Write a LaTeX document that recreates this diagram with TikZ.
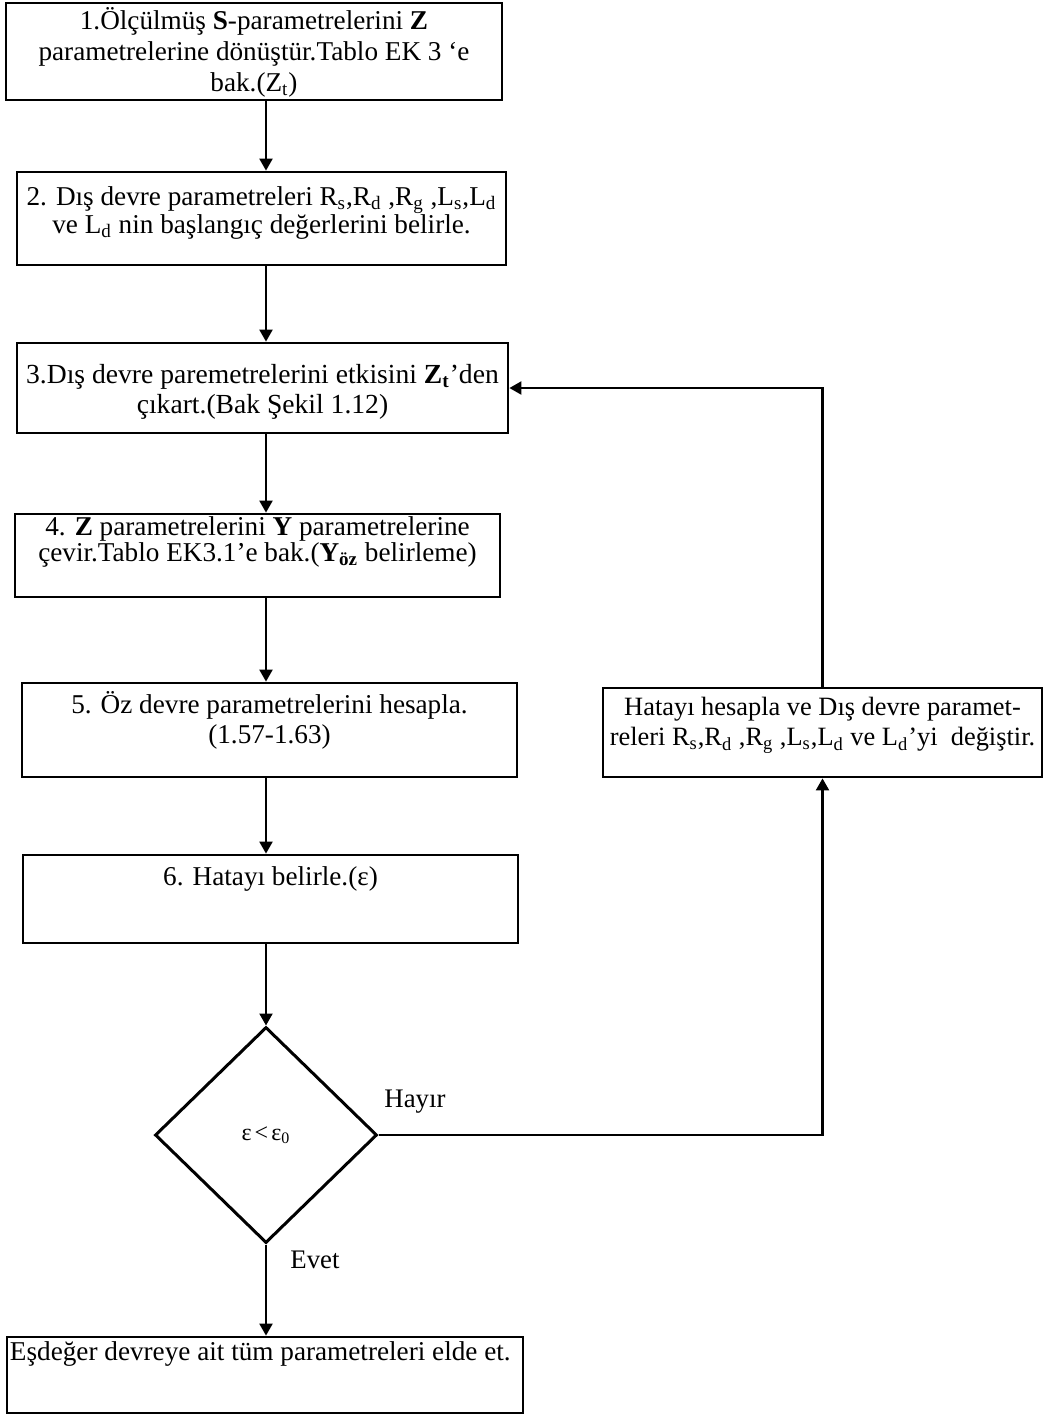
\documentclass[tikz,border=0pt]{standalone}
\usepackage{fontspec}
\setmainfont{Liberation Serif}
\usetikzlibrary{shapes.geometric,arrows.meta,positioning}

\begin{document}
\begin{tikzpicture}[x=0.5pt, y=-0.5pt,
    kutu/.style={draw, line width=1.4pt, inner sep=0pt},
    yazi/.style={align=center, inner sep=0pt, anchor=base, font=\fontsize{13.6}{15}\selectfont},
    ok/.style={line width=1.1pt, -{Triangle[length=6pt,width=6.5pt]}},
    karar/.style={draw, diamond, line width=1.5pt, inner sep=0pt, minimum width=111pt, minimum height=108pt}]
    \useasboundingbox (0,0) rectangle (1045,1415);

    % Kutular
    \node[kutu, minimum width=248pt, minimum height=48.5pt] (b1) at (254,51.5) {};
    \node[yazi, font=\fontsize{13.6}{15.5}\selectfont] (t1) at ([yshift=-45pt]b1.north)
        {1.Ölçülmüş \textbf{S}-parametrelerini \textbf{Z}\\
         parametrelerine dönüştür.Tablo EK 3 ‘e\\ bak.(Z\textsubscript{t})};

    \node[kutu, minimum width=244.5pt, minimum height=46.5pt] (b2) at (261.5,218.5) {};
    \node[yazi, font=\fontsize{13.6}{14}\selectfont] (t2) at ([yshift=-31.5pt]b2.north)
        {2. Dış devre parametreleri R\textsubscript{s},R\textsubscript{d} ,R\textsubscript{g} ,L\textsubscript{s},L\textsubscript{d}\\
         ve L\textsubscript{d} nin başlangıç değerlerini belirle.};

    \node[kutu, minimum width=245.5pt, minimum height=45pt] (b3) at (262.5,388) {};
    \node[yazi, font=\fontsize{13.8}{15}\selectfont] (t3) at ([yshift=-36pt]b3.north)
        {3.Dış devre paremetrelerini etkisini \textbf{Z\textsubscript{t}}’den\\
         çıkart.(Bak Şekil 1.12)};

    \node[kutu, minimum width=242.5pt, minimum height=41.5pt] (b4) at (257.5,555.5) {};
    \node[yazi, font=\fontsize{13.6}{13}\selectfont] (t4) at ([yshift=-24.5pt]b4.north)
        {4. \textbf{Z} parametrelerini \textbf{Y} parametrelerine\\
         çevir.Tablo EK3.1’e bak.(\textbf{Y\textsubscript{öz}} belirleme)};

    \node[kutu, minimum width=247.5pt, minimum height=47pt] (b5) at (269.5,730) {};
    \node[yazi] (t5) at ([yshift=-31pt]b5.north)
        {5. Öz devre parametrelerini hesapla.\\ (1.57-1.63)};

    \node[kutu, minimum width=247.5pt, minimum height=44pt] (b6) at (270.5,899) {};
    \node[yazi] (t6) at ([yshift=-16pt]b6.north) {6. Hatayı belirle.(ε)};

    \node[kutu, minimum width=219.5pt, minimum height=44.5pt] (b7) at (822.5,732.5) {};
    \node[yazi, font=\fontsize{13.2}{15}\selectfont] (t7) at ([yshift=-29.5pt]b7.north)
        {Hatayı hesapla ve Dış devre paramet-\\
         releri R\textsubscript{s},R\textsubscript{d} ,R\textsubscript{g} ,L\textsubscript{s},L\textsubscript{d} ve L\textsubscript{d}’yi\ \ değiştir.};

    \node[kutu, minimum width=258pt, minimum height=38pt] (son) at (265,1375) {};
    \node[yazi, anchor=base west] (ts) at ([xshift=2pt, yshift=-12.5pt]son.north west)
        {Eşdeğer devreye ait tüm parametreleri elde et.};

    % Karar
    \node[karar] (dec) at (266,1135) {\fontsize{12}{14}\selectfont ε\kern1.5pt<\kern1.5ptε\textsubscript{0}};
    \node[font=\fontsize{13.4}{15}\selectfont] (hayir) at (415,1102) {Hayır};
    \node[font=\fontsize{13.4}{15}\selectfont] (evet) at (315,1260) {Evet};

    % Oklar
    \draw[ok] (b1.south -| dec) -- (b2.north -| dec);
    \draw[ok] (b2.south -| dec) -- (b3.north -| dec);
    \draw[ok] (b3.south -| dec) -- (b4.north -| dec);
    \draw[ok] (b4.south -| dec) -- (b5.north -| dec);
    \draw[ok] (b5.south -| dec) -- (b6.north -| dec);
    \draw[ok] (b6.south -| dec) -- (dec.north);
    \draw[ok] (dec.south) -- (son.north -| dec);

    % Geri besleme
    \draw[ok] (dec.east) -| (b7.south);
    \draw[ok] (b7.north) |- (b3.east);
\end{tikzpicture}
\end{document}
